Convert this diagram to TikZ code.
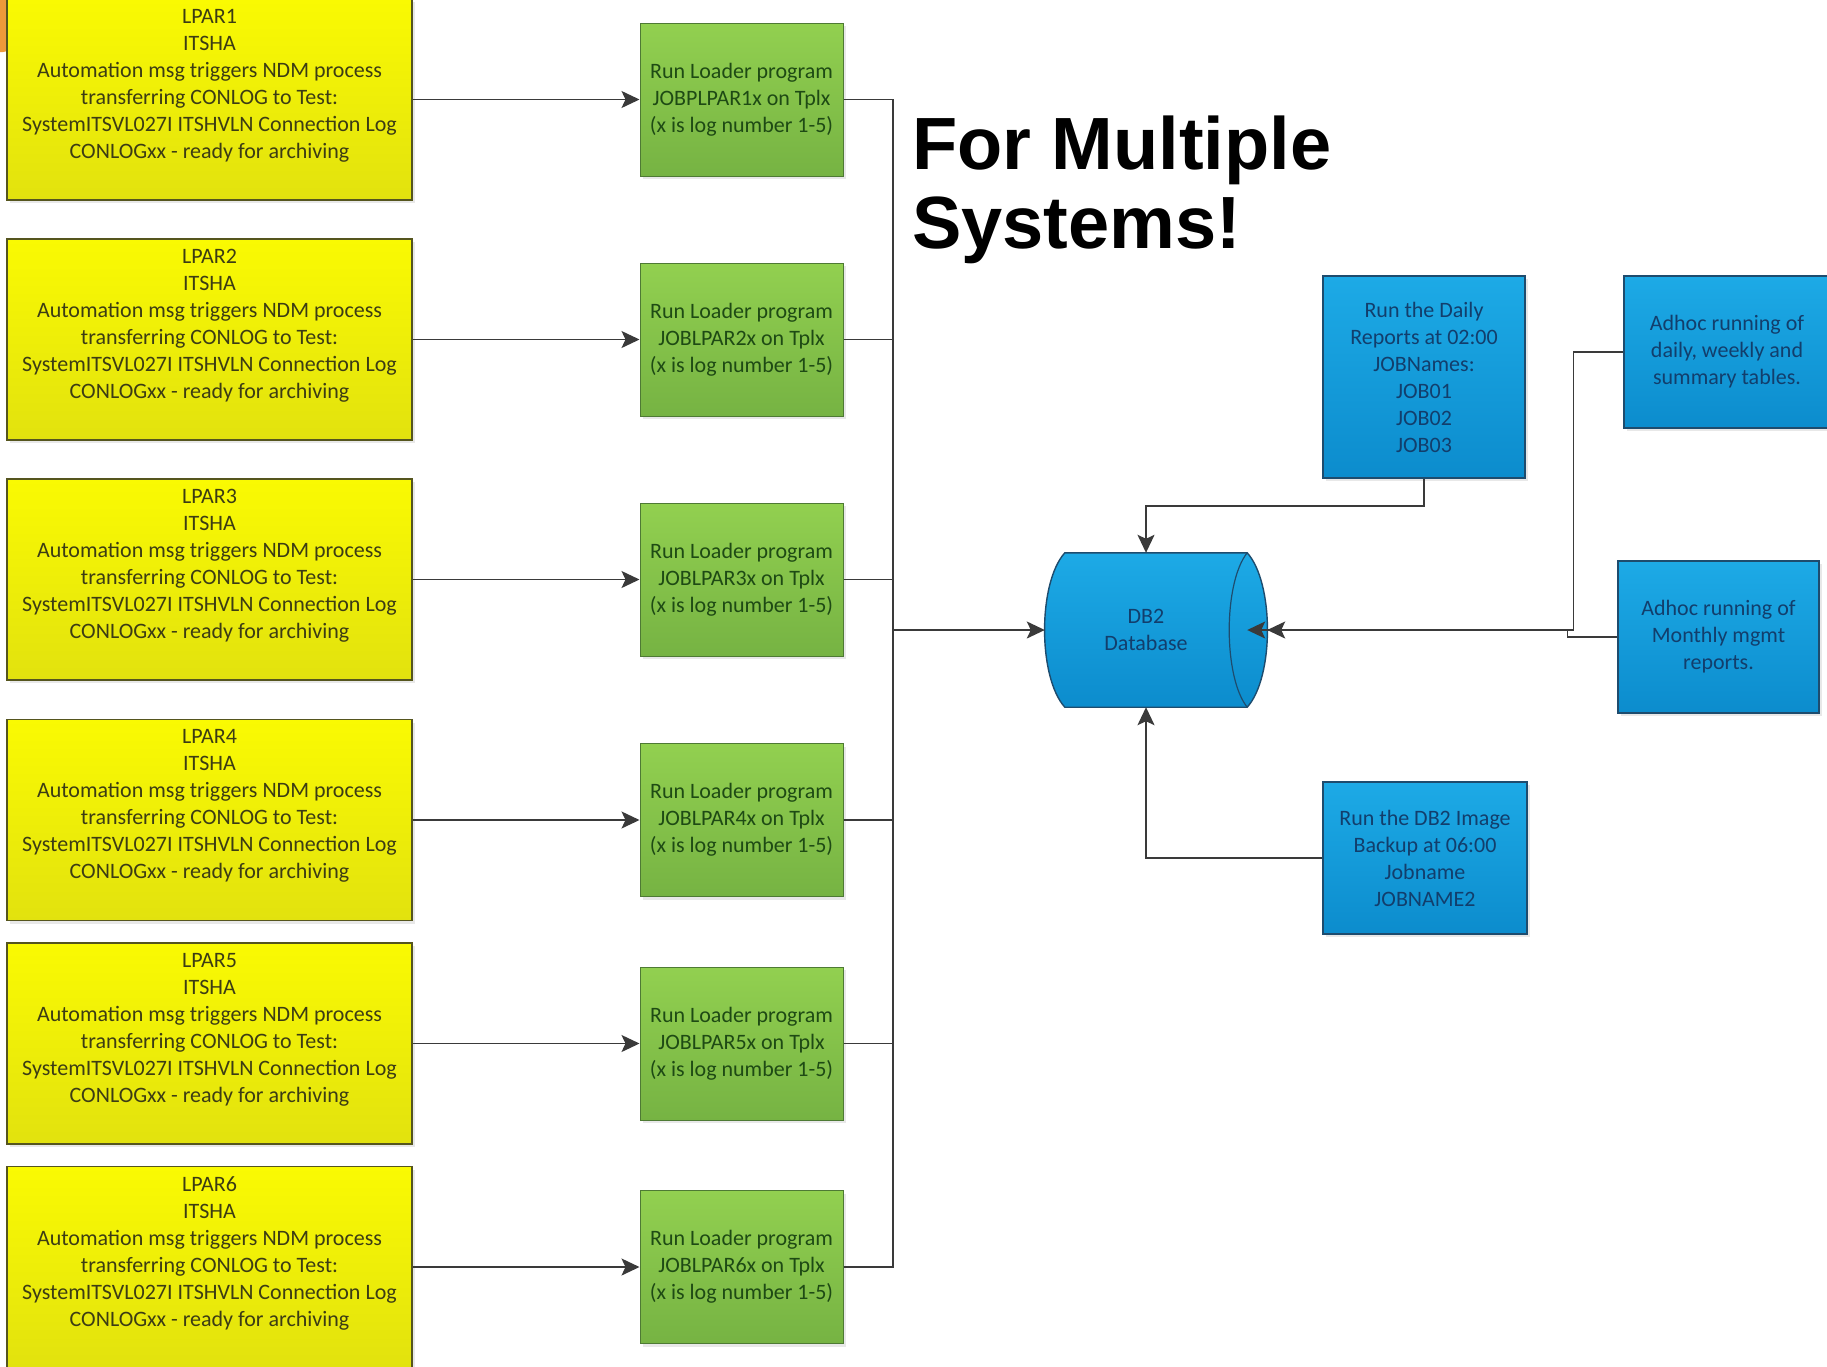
\documentclass[tikz,border=0pt]{standalone}
\usepackage{fontspec}
\setmainfont{Carlito}
\newfontfamily\titlefont{Liberation Sans}
\usetikzlibrary{arrows.meta,shadows,calc,backgrounds}

\definecolor{yelTop}{HTML}{FAFA02}
\definecolor{yelBot}{HTML}{E2E20E}
\definecolor{yelLine}{HTML}{55551E}
\definecolor{yelText}{HTML}{3C3C14}
\definecolor{grnTop}{HTML}{92D050}
\definecolor{grnBot}{HTML}{76B343}
\definecolor{grnLine}{HTML}{4E7A34}
\definecolor{grnText}{HTML}{1E4A14}
\definecolor{bluTop}{HTML}{1DAAE6}
\definecolor{bluBot}{HTML}{0C8CCD}
\definecolor{bluLine}{HTML}{1E4C6E}
\definecolor{bluText}{HTML}{123E6C}
\definecolor{wire}{HTML}{3A3A3A}
\definecolor{ornge}{HTML}{EE9A3A}

\begin{document}
\begin{tikzpicture}[x=1pt,y=-1pt,
  boxfont/.style={font=\fontsize{22}{27}\selectfont, align=center},
  soft/.style={drop shadow={shadow xshift=3pt, shadow yshift=-3pt, opacity=0.18}},
  lparbox/.style={soft, draw=yelLine, line width=1.6pt, top color=yelTop, bottom color=yelBot,
    minimum width=405pt, minimum height=201pt, inner sep=0pt},
  lpartext/.style={boxfont, text=yelText, inner sep=0pt},
  loadbox/.style={soft, boxfont, text=grnText, draw=grnLine, line width=1pt, top color=grnTop, bottom color=grnBot,
    minimum width=203pt, minimum height=153pt, inner sep=0pt},
  jobbox/.style={soft, boxfont, text=bluText, draw=bluLine, line width=1.4pt, top color=bluTop, bottom color=bluBot,
    minimum width=202pt, inner sep=0pt},
  dbbody/.style={boxfont, text=bluText, minimum width=202pt, minimum height=154pt, inner sep=0pt},
  wire/.style={draw=wire, line width=1.6pt},
  arr/.style={wire, -{Stealth[length=18pt, width=17pt, inset=4pt]}},
  title/.style={font=\titlefont\bfseries\fontsize{74}{79}\selectfont, align=left, inner sep=0pt}
]
\useasboundingbox (0,0) rectangle (1827,1366);
\begin{scope}[on background layer]
  \fill[white] (0,0) rectangle (1827,1366);
\end{scope}

% orange corner piece peeking out behind the first box
\fill[ornge, rounded corners=9pt] (-14,-12) rectangle (12,52);

% trunk point where the loader outputs join
\coordinate (bus) at (893,630);

% database cylinder body (anchors) and its outline
\node[dbbody] (db) at (1146,630) {DB2\\Database};
\begin{scope}[on background layer]
  \path[draw=bluLine, line width=1.4pt, top color=bluTop, bottom color=bluBot]
    ([xshift=20pt]db.north west) -- (db.north east)
    .. controls +(27,30) and +(27,-30) .. (db.south east)
    -- ([xshift=20pt]db.south west)
    .. controls +(-27,-30) and +(-27,30) .. ([xshift=20pt]db.north west) -- cycle;
  \draw[draw=bluLine, line width=1.2pt]
    (db.north east) .. controls +(-24,30) and +(-24,-30) .. (db.south east);
\end{scope}
\coordinate (dbcap) at ([xshift=20pt]db.east);

% six LPAR rows: source box, loader job, and the link into the trunk
\foreach \i/\yc/\job in {1/99.5/JOBPLPAR1x, 2/339.5/JOBLPAR2x, 3/579.5/JOBLPAR3x,
                         4/820/JOBLPAR4x, 5/1043.5/JOBLPAR5x, 6/1267/JOBLPAR6x} {
  \node[lparbox] (y\i) at (209.5,\yc) {};
  \node[lpartext] (yt\i) at ([yshift=14pt]y\i.center)
    {LPAR\i\\ITSHA\\Automation msg triggers NDM process\\transferring CONLOG to Test:\\SystemITSVL027I ITSHVLN Connection Log\\CONLOGxx - ready for archiving};
  \node[loadbox] (g\i) at (741.5,\yc) {Run Loader program\\\job{} on Tplx\\(x is log number 1-5)};
  \draw[arr] (y\i.east) -- (g\i.west);
  \draw[wire] (g\i.east) -| (bus);
}
\draw[arr] (bus) -- (db.west);

% title (anchored on the baseline of its last line)
\node[title, anchor=base west] (ttl) at (912,248) {For Multiple\\Systems!};

% scheduled and ad hoc jobs around the database
\node[jobbox, minimum height=202pt] (daily) at (1424,377)
  {Run the Daily\\Reports at 02:00\\JOBNames:\\JOB01\\JOB02\\JOB03};
\node[jobbox, minimum height=152pt, minimum width=206pt] (adhocA) at (1727,352)
  {Adhoc running of\\daily, weekly and\\summary tables.};
\node[jobbox, minimum height=152pt, minimum width=201pt] (adhocB) at (1718.5,637)
  {Adhoc running of\\Monthly mgmt\\reports.};
\node[jobbox, minimum height=152pt, minimum width=204pt] (backup) at (1425,858)
  {Run the DB2 Image\\Backup at 06:00\\Jobname\\JOBNAME2};

\draw[arr] (daily.south) -- ++(0,27) -| (db.north);
\draw[arr] (backup.west) -| (db.south);
\draw[arr] (adhocA.west) -- ++(-50,0) |- (db.east);
\draw[arr] (adhocB.west) -- ++(-50,0) |- (dbcap);
\end{tikzpicture}
\end{document}
